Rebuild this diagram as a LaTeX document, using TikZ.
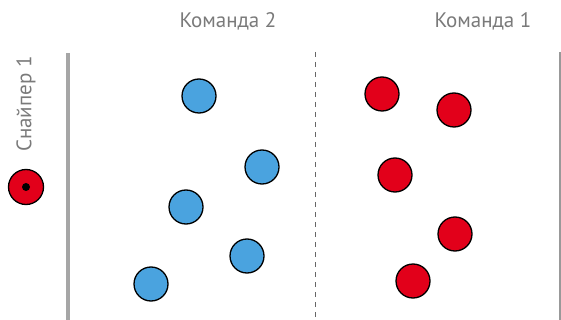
\documentclass[tikz,border=0pt]{standalone}
\usepackage{fontspec}
\setmainfont{PT Sans}
\definecolor{blueteam}{HTML}{4AA3DF}
\definecolor{redteam}{HTML}{E2001A}
\definecolor{labelgray}{HTML}{7A7A7A}
\begin{document}
\begin{tikzpicture}[x=1pt,y=-1pt,
  player/.style={circle,draw=black,line width=1.3pt,minimum size=34pt,inner sep=0pt},
  blueplayer/.style={player,fill=blueteam},
  redplayer/.style={player,fill=redteam},
  lbl/.style={text=labelgray,font=\fontsize{21}{24}\selectfont,inner sep=0pt}]
\useasboundingbox (0,0) rectangle (561,320);
\coordinate (gt) at (68,53); \coordinate (gb) at (68,320);
\coordinate (dt) at (315,52); \coordinate (db) at (315,320);
\coordinate (rt) at (560,52); \coordinate (rb) at (560,320);
\draw[line width=4pt,color=black!35] (gt) -- (gb);
\draw[line width=1pt,color=black!60,dash pattern=on 5pt off 5pt] (dt) -- (db);
\draw[line width=1.2pt,color=black!40] (rt) -- (rb);
\node[lbl] (t2) at (228,21) {Команда 2};
\node[lbl] (t1) at (483,21) {Команда 1};
\node[lbl,rotate=90] (s1) at (26,104) {Снайпер 1};
\node[redplayer,minimum size=35pt] (s) at (26,187) {};
\node[circle,fill=black,minimum size=8pt,inner sep=0pt] (sd) at (s) {};
\node[blueplayer] (b1) at (199,96) {};
\node[blueplayer] (b2) at (262,167) {};
\node[blueplayer] (b3) at (186,207) {};
\node[blueplayer] (b4) at (247,256) {};
\node[blueplayer] (b5) at (151,284) {};
\node[redplayer] (r1) at (382,94) {};
\node[redplayer] (r2) at (454,110) {};
\node[redplayer] (r3) at (395,175) {};
\node[redplayer] (r4) at (455,234) {};
\node[redplayer] (r5) at (413,281) {};
\end{tikzpicture}
\end{document}
